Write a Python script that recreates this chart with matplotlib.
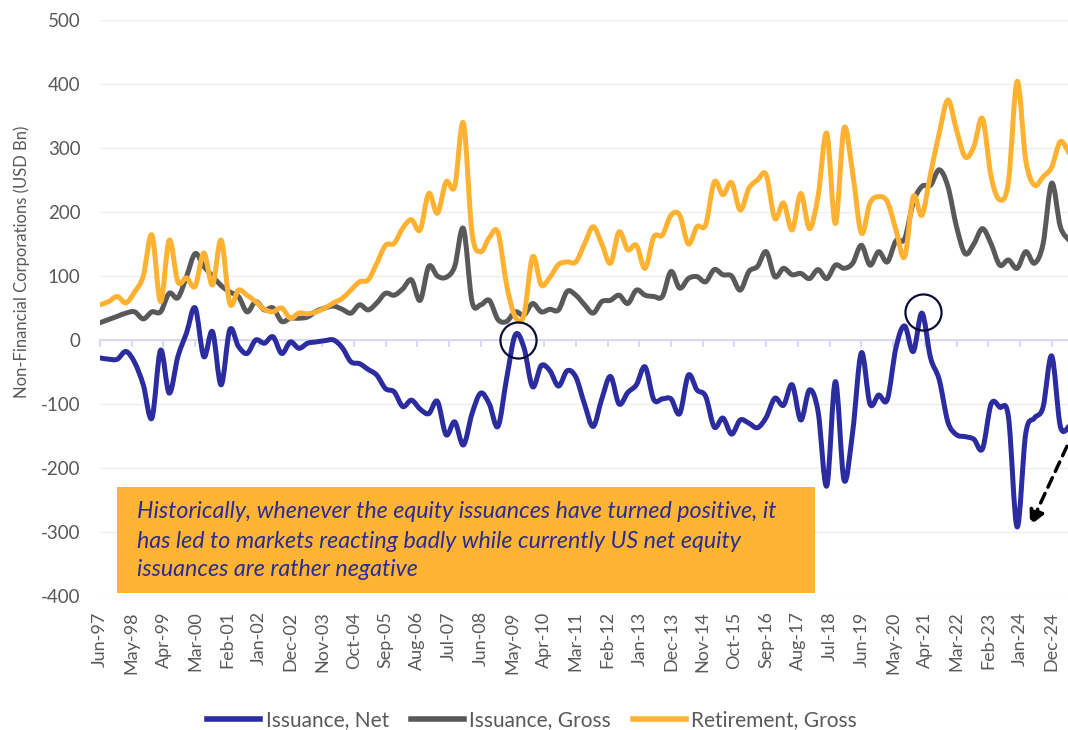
import numpy as np
import matplotlib
matplotlib.use("Agg")
import matplotlib.pyplot as plt
from matplotlib.path import Path
from matplotlib.patches import PathPatch, Rectangle
from matplotlib.lines import Line2D

# ---------------- data (quarterly, Jun-97 .. Jun-25, USD bn) ----------------
months_per_step = 3
net = [-28, -30, -30, -18, -35, -70, -122, -16, -83, -26, 11, 50, -26, 13, -70, 16,
       -10, -21, 0, -5, 5, -21, -3, -13, -5, -3, -1, 0,
       -12, -34, -37, -46, -55, -76, -81, -104, -94, -108, -115, -96, -148, -128, -164,
       -115, -83, -100, -135, -60, 8, -12, -73, -40, -48, -72, -48, -58,
       -100, -135, -92, -57, -100, -82, -70, -42, -93, -92, -92, -115, -55, -78, -88,
       -136, -122, -147, -125, -130, -137, -121, -91, -102, -70, -125, -78,
       -112, -228, -65, -219, -143, -20, -100, -86, -93, -12, 22, -18, 42, -28, -62,
       -128, -148, -151, -155, -170, -100, -105, -120, -292, -146, -122, -105, -25,
       -135, -135]
gross = [27, 32, 37, 42, 44, 33, 44, 44, 73, 66, 99, 135, 115, 100, 85, 75, 68, 44,
         60, 47, 50, 29, 34, 34, 36, 45, 50, 53,
         48, 42, 55, 47, 58, 73, 70, 80, 94, 62, 115, 100, 98, 115, 174, 60, 55, 62,
         32, 29, 44, 39, 57, 44, 48, 47, 76, 70,
         55, 42, 60, 62, 70, 57, 78, 70, 68, 68, 107, 81, 96, 99, 91, 110, 102, 100,
         78, 107, 115, 138, 99, 112, 102, 104, 96,
         110, 96, 117, 112, 120, 148, 117, 138, 122, 155, 158, 215, 240, 242, 266, 240,
         177, 135, 150, 174, 150, 117, 125, 112, 138, 120, 150, 245, 177, 156]
retirement = [55, 60, 68, 58, 75, 100, 164, 60, 156, 91, 97, 84, 136, 86, 156, 57, 78,
              70, 60, 48, 44, 50, 34, 42, 41, 44, 50, 58,
              65, 78, 91, 94, 120, 148, 151, 175, 188, 172, 229, 198, 247, 240, 339, 167,
              138, 160, 168, 86, 36, 39, 130, 86, 98, 118, 122, 122,
              150, 177, 150, 120, 169, 141, 148, 112, 161, 164, 195, 195, 150, 177, 180,
              247, 227, 246, 203, 237, 250, 258, 190, 214, 172, 229, 174,
              225, 323, 182, 331, 260, 167, 214, 224, 216, 172, 130, 224, 195, 260, 323,
              375, 328, 286, 302, 346, 255, 219, 247, 404, 281, 242, 255, 270, 310, 292]
series_names = ["Issuance, Net", "Issuance, Gross", "Retirement, Gross"]
tick_labels = ["Jun-97", "May-98", "Apr-99", "Mar-00", "Feb-01", "Jan-02", "Dec-02",
               "Nov-03", "Oct-04", "Sep-05", "Aug-06", "Jul-07", "Jun-08", "May-09",
               "Apr-10", "Mar-11", "Feb-12", "Jan-13", "Dec-13", "Nov-14", "Oct-15",
               "Sep-16", "Aug-17", "Jul-18", "Jun-19", "May-20", "Apr-21", "Mar-22",
               "Feb-23", "Jan-24", "Dec-24"]
tick_step_months = 11
y_ticks = [-400, -300, -200, -100, 0, 100, 200, 300, 400, 500]
y_label = "Non-Financial Corporations (USD Bn)"
note_lines = ["Historically, whenever the equity issuances have turned positive, it",
              "has led to markets reacting badly while currently US net equity",
              "issuances are rather negative"]

# ---------------- style ----------------
plt.rcParams['font.family'] = ['Lato', 'DejaVu Sans']
plt.rcParams['axes.unicode_minus'] = False
C_NET, C_GROSS, C_RET = '#2a2ca0', '#595959', '#ffb232'
TXT = '#595959'
W, H = 1068, 730

fig = plt.figure(figsize=(W / 100, H / 100), dpi=100)
ax = fig.add_axes([100 / W, (H - 596) / H, 969 / W, 576 / H])

x = np.arange(len(net)) * months_per_step


def smooth_path(xs, ys):
    pts = np.column_stack([np.asarray(xs, float), np.asarray(ys, float)])
    n = len(pts)
    verts, codes = [pts[0]], [Path.MOVETO]
    for i in range(n - 1):
        p0 = pts[i - 1] if i > 0 else pts[i]
        p1, p2 = pts[i], pts[i + 1]
        p3 = pts[i + 2] if i + 2 < n else pts[i + 1]
        verts += [p1 + (p2 - p0) / 6, p2 - (p3 - p1) / 6, p2]
        codes += [Path.CURVE4] * 3
    return Path(verts, codes)


for vals, col in [(net, C_NET), (gross, C_GROSS), (retirement, C_RET)]:
    ax.add_patch(PathPatch(smooth_path(x, vals), fill=False, edgecolor=col, lw=3.6,
                           capstyle='round', joinstyle='round', zorder=3))

ax.set_xlim(0, x[-1])
ax.set_ylim(-400, 500)
ax.set_yticks(y_ticks)
ax.yaxis.grid(True, color='#eeeeee', lw=1.0, zorder=0)
ax.set_axisbelow(True)
ax.tick_params(axis='y', length=0, pad=14, labelsize=13.5, labelcolor=TXT)
for s in ['top', 'right', 'left']:
    ax.spines[s].set_visible(False)
ax.spines['bottom'].set_position(('data', 0))
ax.spines['bottom'].set_color('#d9d9f3')
ax.spines['bottom'].set_linewidth(1.5)
ax.spines['bottom'].set_zorder(2)
xt = np.arange(len(tick_labels)) * tick_step_months
ax.set_xticks(xt)
ax.tick_params(axis='x', direction='out', length=5, width=1.5, color='#d9d9f3',
               labelbottom=False)

sec = ax.secondary_xaxis(0)
sec.set_xticks(xt, labels=tick_labels)
sec.tick_params(length=0, pad=11, labelsize=13, labelcolor=TXT, labelrotation=90)
sec.spines['bottom'].set_visible(False)

fig.text(22 / W, 1 - 262 / H, y_label, rotation=90, ha='center', va='center',
         fontsize=12, color=TXT)

# annotations: circles and arrow
ax.plot([145], [0], 'o', ms=26, mfc='none', mec='#0c0c38', mew=1.6, zorder=5)
ax.plot([285.5], [44], 'o', ms=26, mfc='none', mec='#0c0c38', mew=1.6, zorder=5)
ax.annotate('', xy=(322.5, -290), xytext=(335.3, -166),
            arrowprops=dict(arrowstyle='-|>', linestyle=(0, (3, 2)), lw=2.5,
                            color='black', mutation_scale=22, shrinkA=0, shrinkB=0),
            zorder=6)

# note box
fig.patches.append(Rectangle((117 / W, 1 - 593 / H), (815 - 117) / W, (593 - 487) / H,
                             transform=fig.transFigure, facecolor='#ffb533',
                             edgecolor='none', zorder=4))
texts = []
for i, line in enumerate(note_lines):
    t = fig.text(137 / W, 1 - (512 + 29 * i) / H, line, ha='left', va='center',
                 fontsize=14, style='italic', color='#2b2b95', zorder=7)
    texts.append(t)
fig.canvas.draw()
r = fig.canvas.get_renderer()
wpx = texts[0].get_window_extent(r).width
scale = 643.0 / wpx
for t in texts:
    t.set_fontsize(14 * scale)

handles = [Line2D([], [], color=c, lw=4.0) for c in (C_NET, C_GROSS, C_RET)]
fig.legend(handles, series_names, loc='center', bbox_to_anchor=(532 / W, 1 - 720 / H),
           ncol=3, frameon=False, fontsize=15, handlelength=2.55, handletextpad=0.25,
           columnspacing=1.05, labelcolor=TXT)

fig.savefig('out.png', dpi=100)
